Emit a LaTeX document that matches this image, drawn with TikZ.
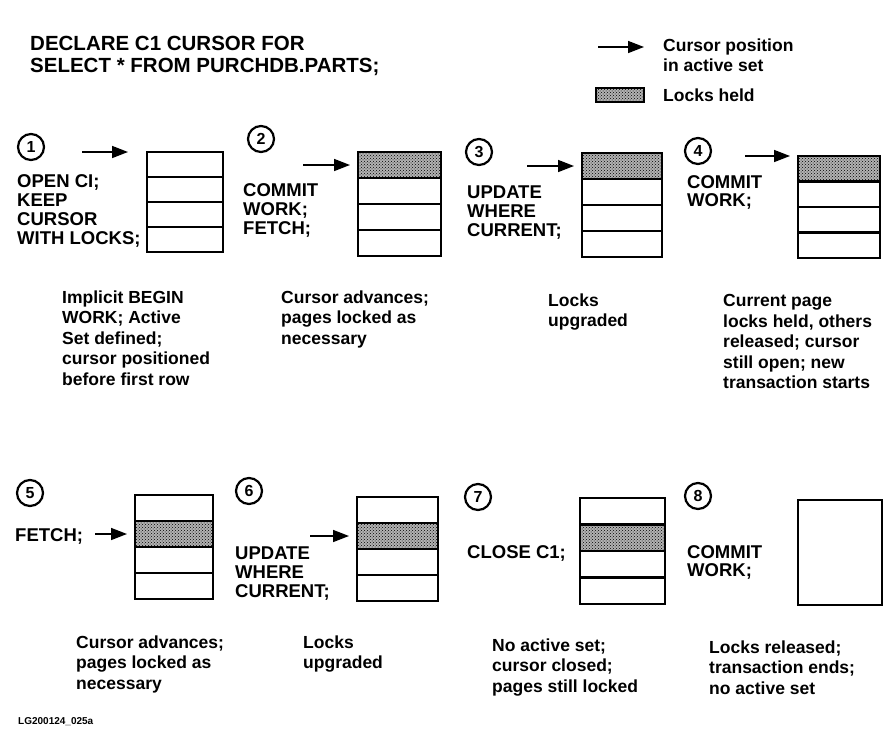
\documentclass[tikz,border=0pt]{standalone}
\usepackage{fontspec}
\setmainfont{Liberation Sans}
\usepackage{tikz}
\usetikzlibrary{positioning, arrows.meta, patterns}
\newcommand{\sz}[2]{\fontsize{#1}{#2}\selectfont\bfseries}
\tikzset{
  num/.style ={draw, circle, line width=2.2pt, minimum size=26pt, inner sep=0pt,
               font=\sz{16}{16}},
  row/.style ={draw, line width=2.2pt, minimum width=80pt, minimum height=26pt,
               inner sep=0pt, outer sep=0pt},
  held/.style={row, fill=black!30, postaction={pattern=crosshatch dots}},
  cmd/.style ={anchor=north west, inner sep=0pt, align=left, font=\sz{18.5}{19}},
  note/.style={anchor=north west, inner sep=0pt, align=left, font=\sz{17.5}{20.5}},
  cur/.style ={-{Triangle[length=16pt, width=12pt]}, line width=1.6pt},
}

\begin{document}
\begin{tikzpicture}[x=1pt, y=-1pt]
  \useasboundingbox (0,0) rectangle (894,742);
  \node[cmd, font=\sz{20.5}{22.5}] (T) at (30,35.5) {DECLARE C1 CURSOR FOR\\SELECT * FROM PURCHDB.PARTS;};
  % legend
  \coordinate (LA) at (598,47);
  \coordinate (LB) at (644,47);
  \draw[cur] (LA) -- (LB);
  \node[note] (LC) at (663,38.5) {Cursor position\\in active set};
  \node[held, minimum width=48pt, minimum height=14pt, anchor=north west] (LH) at (596,88) {};
  \node[note, anchor=west] (LL) at (663,95) {Locks held};

  % 1
  \node[num] (N1) at (31,147) {1};
  \node[row, minimum width=76pt, minimum height=25pt, anchor=north west] (R1a) at (147,152) {};
  \node[row, minimum width=76pt, minimum height=25pt, below=0pt of R1a] (R1b) {};
  \node[row, minimum width=76pt, minimum height=25pt, below=0pt of R1b] (R1c) {};
  \node[row, minimum width=76pt, minimum height=25pt, below=0pt of R1c] (R1d) {};
  \coordinate[left=65pt of R1a.north west] (A1);
  \draw[cur] (A1) -- ([xshift=-19pt]R1a.north west);
  \node[cmd] (C1) at (17,174.5) {OPEN CI;\\KEEP\\CURSOR\\WITH LOCKS;};
  \node[note] (D1) at (62,290.5) {Implicit BEGIN\\WORK; Active\\Set defined;\\cursor positioned\\before first row};

  % 2
  \node[num] (N2) at (261,139) {2};
  \node[held, minimum width=83pt, anchor=north west] (R2a) at (358,152) {};
  \node[row, minimum width=83pt, below=0pt of R2a] (R2b) {};
  \node[row, minimum width=83pt, below=0pt of R2b] (R2c) {};
  \node[row, minimum width=83pt, below=0pt of R2c] (R2d) {};
  \coordinate[left=55pt of R2a.west] (A2);
  \draw[cur] (A2) -- ([xshift=-8pt]R2a.west);
  \node[cmd] (C2) at (243,183.5) {COMMIT\\WORK;\\FETCH;};
  \node[note] (D2) at (281,290.5) {Cursor advances;\\pages locked as\\necessary};

  % 3
  \node[num] (N3) at (479,152) {3};
  \node[held, anchor=north west] (R3a) at (582,153) {};
  \node[row, below=0pt of R3a] (R3b) {};
  \node[row, below=0pt of R3b] (R3c) {};
  \node[row, below=0pt of R3c] (R3d) {};
  \coordinate[left=55pt of R3a.west] (A3);
  \draw[cur] (A3) -- ([xshift=-8pt]R3a.west);
  \node[cmd] (C3) at (467,185.5) {UPDATE\\WHERE\\CURRENT;};
  \node[note] (D3) at (548,293.5) {Locks\\upgraded};

  % 4
  \node[num] (N4) at (698,151) {4};
  \node[held, minimum width=82pt, minimum height=25.5pt, anchor=north west] (R4a) at (798,156) {};
  \node[row, minimum width=82pt, minimum height=25.5pt, below=0pt of R4a] (R4b) {};
  \node[row, minimum width=82pt, minimum height=25.5pt, below=0pt of R4b] (R4c) {};
  \node[row, minimum width=82pt, minimum height=25.5pt, below=0pt of R4c] (R4d) {};
  \coordinate[left=53pt of R4a.north west] (A4);
  \draw[cur] (A4) -- ([xshift=-8pt]R4a.north west);
  \node[cmd, font=\sz{18.5}{18}] (C4) at (687,175.5) {COMMIT\\WORK;};
  \node[note] (D4) at (723,294.5) {Current page\\locks held, others\\released; cursor\\still open; new\\transaction starts};

  % 5
  \node[num] (N5) at (30,493) {5};
  \node[row, minimum width=78pt, anchor=north west] (R5a) at (135,495) {};
  \node[held, minimum width=78pt, below=0pt of R5a] (R5b) {};
  \node[row, minimum width=78pt, below=0pt of R5b] (R5c) {};
  \node[row, minimum width=78pt, below=0pt of R5c] (R5d) {};
  \coordinate[left=40pt of R5b.west] (A5);
  \draw[cur] (A5) -- ([xshift=-8pt]R5b.west);
  \node[cmd] (C5) at (15,528.5) {FETCH;};
  \node[note] (D5) at (76,635.5) {Cursor advances;\\pages locked as\\necessary};

  % 6
  \node[num] (N6) at (249,491) {6};
  \node[row, minimum width=81pt, anchor=north west] (R6a) at (357,497) {};
  \node[held, minimum width=81pt, below=0pt of R6a] (R6b) {};
  \node[row, minimum width=81pt, below=0pt of R6b] (R6c) {};
  \node[row, minimum width=81pt, below=0pt of R6c] (R6d) {};
  \coordinate[left=47pt of R6b.west] (A6);
  \draw[cur] (A6) -- ([xshift=-8pt]R6b.west);
  \node[cmd] (C6) at (235,546.5) {UPDATE\\WHERE\\CURRENT;};
  \node[note] (D6) at (303,635.5) {Locks\\upgraded};

  % 7
  \node[num] (N7) at (478,497) {7};
  \node[row, minimum width=85pt, minimum height=26.5pt, anchor=north west] (R7a) at (580,498) {};
  \node[held, minimum width=85pt, minimum height=26.5pt, below=0pt of R7a] (R7b) {};
  \node[row, minimum width=85pt, minimum height=26.5pt, below=0pt of R7b] (R7c) {};
  \node[row, minimum width=85pt, minimum height=26.5pt, below=0pt of R7c] (R7d) {};
  \node[cmd] (C7) at (467,545.5) {CLOSE C1;};
  \node[note] (D7) at (492,638.5) {No active set;\\cursor closed;\\pages still locked};

  % 8
  \node[num] (N8) at (698,496) {8};
  \node[row, minimum width=84pt, minimum height=105pt, anchor=north west] (R8) at (798,500) {};
  \node[cmd, font=\sz{18.5}{18}] (C8) at (687,545.5) {COMMIT\\WORK;};
  \node[note] (D8) at (709,640.5) {Locks released;\\transaction ends;\\no active set};

  \node[anchor=west, inner sep=0pt, font=\sz{10}{10}] (F) at (18,722) {LG200124\_025a};
\end{tikzpicture}
\end{document}
